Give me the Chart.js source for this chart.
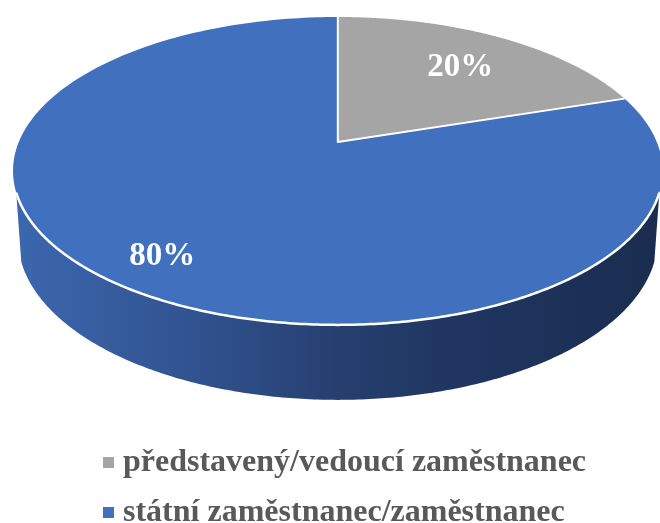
<!DOCTYPE html>
<html lang="cs">
<head>
<meta charset="utf-8">
<title>Pie</title>
<style>html,body{margin:0;padding:0;background:#fff}#w{width:660px;height:523px;position:relative}canvas{display:block}</style>
<script src="https://cdn.jsdelivr.net/npm/chart.js@4"></script>
</head>
<body>
<div id="w"><canvas id="c" width="660" height="523"></canvas></div>
<script>
const categories = ["představený/vedoucí zaměstnanec", "státní zaměstnanec/zaměstnanec"];
const values = [20, 80];
const colors = ["#A5A5A5", "#4170BF"];
const labelRadius = [0.725, 0.82];
const labelDy = [4, 2];

// projective view of the pie disc: top face and bottom rim
const TOP = {cx: 337.8, c: 319, a: 121.8, b: 142, k: -0.188};
const BOT = {cx: 337.8, c: 314, a: 115.7, b: 209, k: -0.188};
const project = (p, r, t) => {
  const u = r * Math.sin(t), v = -r * Math.cos(t), d = 1 + p.k * v;
  return [p.cx + p.c * u / d, (p.a * v + p.b) / d];
};
const rim = (ctx, p, t0, t1, move) => {
  const n = 240;
  for (let i = 0; i <= n; i++) {
    const q = project(p, 1, t0 + (t1 - t0) * i / n);
    if (i === 0 && move) ctx.moveTo(q[0], q[1]); else ctx.lineTo(q[0], q[1]);
  }
};
const toT = a => a + Math.PI / 2;

const pie3d = {
  id: "pie3d",
  beforeDatasetDraw(chart, args) {
    const ctx = chart.ctx, arcs = chart.getDatasetMeta(args.index).data;
    // side wall (front part of the disc)
    const tA = Math.PI - 1.245, tB = Math.PI + 1.245;
    const g = ctx.createLinearGradient(12, 0, 662, 0);
    g.addColorStop(0, "#3C67AF");
    g.addColorStop(0.18, "#355A9B");
    g.addColorStop(0.36, "#2D4C85");
    g.addColorStop(0.5, "#263F6F");
    g.addColorStop(0.68, "#203660");
    g.addColorStop(1, "#1A2D50");
    ctx.save();
    ctx.beginPath();
    rim(ctx, TOP, tA, tB, true);
    rim(ctx, BOT, tB, tA, false);
    ctx.closePath();
    ctx.fillStyle = g;
    ctx.fill();
    // top face slices
    arcs.forEach(arc => {
      const s = toT(arc.startAngle), e = toT(arc.endAngle);
      const o = project(TOP, 0, 0);
      ctx.beginPath();
      ctx.moveTo(o[0], o[1]);
      rim(ctx, TOP, s, e, false);
      ctx.closePath();
      ctx.fillStyle = arc.options.backgroundColor;
      ctx.fill();
    });
    // white separators: slice edges and front rim
    ctx.strokeStyle = "#FFFFFF";
    ctx.lineJoin = "round";
    ctx.lineWidth = 2;
    const o = project(TOP, 0, 0);
    const boundary = toT(arcs[0].endAngle);
    const q = project(TOP, 1, boundary);
    ctx.beginPath();
    ctx.moveTo(project(TOP, 1, 0)[0], project(TOP, 1, 0)[1]);
    ctx.lineTo(o[0], o[1]);
    ctx.lineTo(q[0], q[1]);
    ctx.stroke();
    ctx.lineWidth = 2.5;
    ctx.beginPath();
    rim(ctx, TOP, tA, tB, true);
    ctx.stroke();
    ctx.restore();
    return false;
  },
  afterDatasetsDraw(chart) {
    const ctx = chart.ctx, arcs = chart.getDatasetMeta(0).data;
    ctx.save();
    // value labels
    ctx.fillStyle = "#FFFFFF";
    ctx.font = 'bold 33px "Liberation Serif"';
    ctx.textAlign = "center";
    ctx.textBaseline = "middle";
    arcs.forEach((arc, i) => {
      const mid = toT((arc.startAngle + arc.endAngle) / 2);
      const p = project(TOP, labelRadius[i], mid);
      ctx.fillText(values[i] + "%", p[0], p[1] + labelDy[i]);
    });
    // legend
    ctx.textAlign = "left";
    ctx.textBaseline = "alphabetic";
    ctx.font = 'bold 32px "Liberation Serif"';
    const ys = [471, 521];
    categories.forEach((name, i) => {
      ctx.fillStyle = colors[i];
      ctx.fillRect(103, ys[i] - 14, 11, 11);
      ctx.fillStyle = "#595959";
      ctx.fillText(name, 123, ys[i]);
    });
    ctx.restore();
  }
};

new Chart(document.getElementById("c"), {
  type: "pie",
  data: {
    labels: categories,
    datasets: [{data: values, backgroundColor: colors, borderWidth: 0}]
  },
  plugins: [pie3d],
  options: {
    responsive: true,
    maintainAspectRatio: false,
    animation: false,
    events: [],
    plugins: {legend: {display: false}, tooltip: {enabled: false}}
  }
});
</script>
</body>
</html>
